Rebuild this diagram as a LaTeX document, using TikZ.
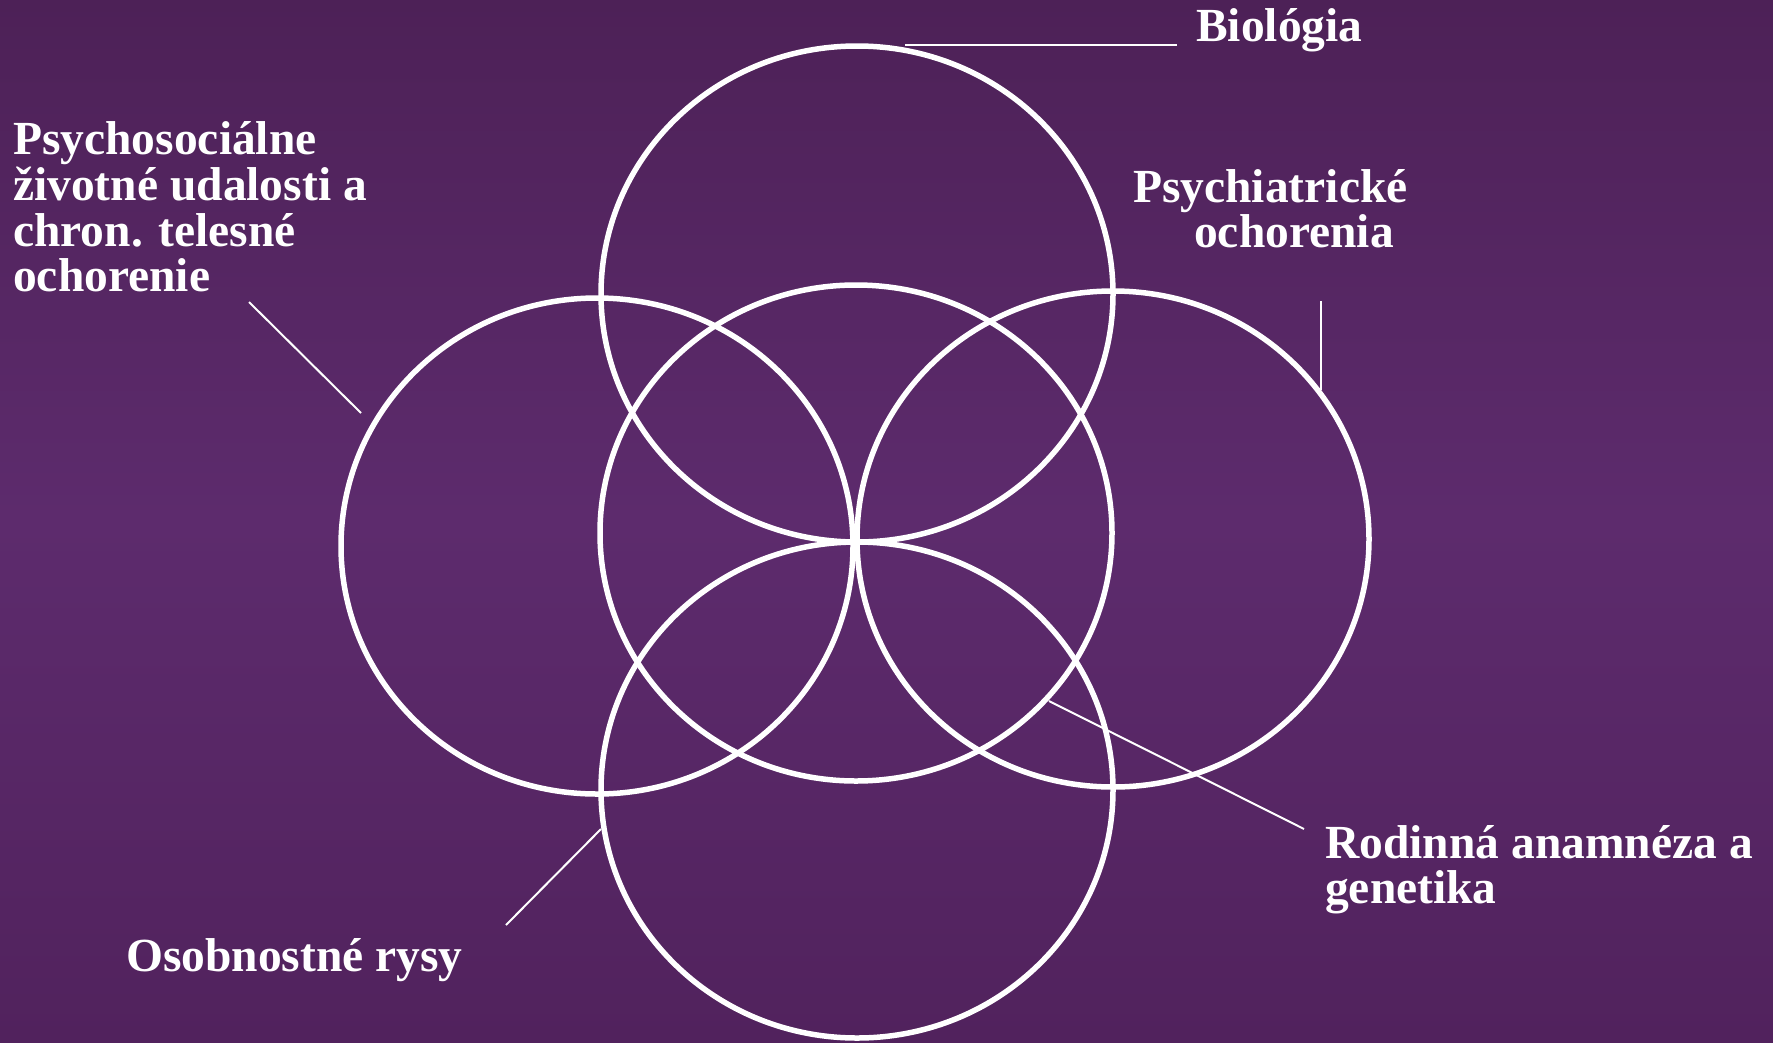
\documentclass[tikz,border=0pt]{standalone}
\usepackage{fontspec}
\setmainfont{Liberation Serif}
\definecolor{bgtop}{HTML}{4D2157}
\definecolor{bgmid}{HTML}{5D2B6D}
\definecolor{bgbot}{HTML}{51225D}
\begin{document}
\begin{tikzpicture}[x=1pt,y=-1pt,
  ring/.style={draw=white,line width=5.5pt},
  leader/.style={draw=white,line width=2pt},
  lbl/.style={text=white,font=\fontsize{47.5}{45.7}\selectfont\bfseries,inner sep=0pt,anchor=base west}]
\useasboundingbox (0,0) rectangle (1773,1042);
\shade[top color=bgtop,bottom color=bgbot,middle color=bgmid] (0,0) rectangle (1773,1042);
% circle centres
\coordinate (ctop) at (857,294);
\coordinate (cmid) at (856,533);
\coordinate (cleft) at (597,546);
\coordinate (cright) at (1113,539);
\coordinate (cbot) at (857,790);
\draw[ring] (ctop) ellipse [x radius=256,y radius=248];
\draw[ring] (cmid) ellipse [x radius=256,y radius=248];
\draw[ring] (cleft) ellipse [x radius=256,y radius=248];
\draw[ring] (cright) ellipse [x radius=256,y radius=248];
\draw[ring] (cbot) ellipse [x radius=256,y radius=248];
% labels
\node[lbl] (bio) at (1196,41) {Biológia};
\node[lbl] (ps1) at (13,154) {Psychosociálne};
\node[lbl] (ps2) at (13,200) {životné udalosti a};
\node[lbl] (ps3) at (13,246) {chron. telesné};
\node[lbl] (ps4) at (13,291) {ochorenie};
\node[lbl] (pc1) at (1133,202) {Psychiatrické};
\node[lbl] (pc2) at (1194,247) {ochorenia};
\node[lbl] (ro1) at (1325,858) {Rodinná anamnéza a};
\node[lbl] (ro2) at (1325,903) {genetika};
\node[lbl] (os) at (126,971) {Osobnostné rysy};
% leader line end points
\coordinate (bioA) at (1177,45);
\coordinate (bioB) at (905,45);
\coordinate (psA) at (249,302);
\coordinate (psB) at (361,413);
\coordinate (pcA) at (1321,301);
\coordinate (pcB) at (1321,390);
\coordinate (roA) at (1304,829);
\coordinate (roB) at (1049,701);
\coordinate (osA) at (506,925);
\coordinate (osB) at (601,829);
\draw[leader] (bioA) -- (bioB);
\draw[leader] (psA) -- (psB);
\draw[leader] (pcA) -- (pcB);
\draw[leader] (roA) -- (roB);
\draw[leader] (osA) -- (osB);
\end{tikzpicture}
\end{document}
